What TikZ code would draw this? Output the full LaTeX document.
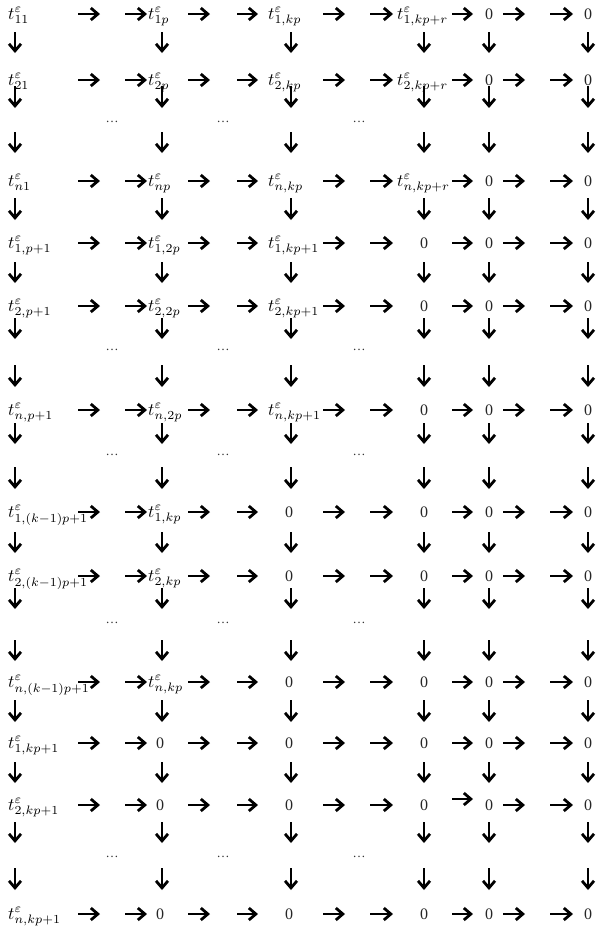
\documentclass[tikz,border=0pt]{standalone}
\usepackage{graphicx}
\usepackage{fontspec}
\setmainfont{Liberation Serif}
\usetikzlibrary{arrows.meta}
\newcommand{\tl}[1]{\scalebox{1.75}{$#1$}}
\begin{document}
\begin{tikzpicture}[x=1pt,y=-1pt,
  arr/.style={line width=2.8pt,-{Straight Barb[length=7pt,width=12pt]}},
  lab/.style={anchor=base west,inner sep=0pt},
  zero/.style={anchor=base,inner sep=0pt,font=\fontsize{16}{19}\selectfont,text=black!85},
  dotsn/.style={inner sep=0pt,font=\fontsize{13}{15}\selectfont,text=black!80}]
\useasboundingbox (0,0) rectangle (596,927);
% horizontal arrows
\foreach \y [count=\r] in {14,80,181,243,306,410,512,576,682,743,805,914} {
  \foreach \a/\b [count=\i] in {78/100,125/147,188/210,237/258,323/345,370/393,452/473,503/525,550/573} {
    \pgfmathtruncatemacro\dy{(\r==11)*(\i==7)*6}
    \coordinate (h\r-\i-s) at (\a,{\y-\dy});
    \coordinate (h\r-\i-e) at (\b,{\y-\dy});
    \draw[arr] (h\r-\i-s) -- (h\r-\i-e);
  }
}
% vertical arrows
\foreach \s/\e [count=\j] in {32/53,86/108,132/153,198/220,262/283,318/339,365/387,423/444,467/489,532/553,588/609,640/661,700/722,762/783,822/843,868/890} {
  \foreach \x [count=\c] in {15,162,291,424,489,588} {
    \coordinate (v\j-\c-s) at (\x,\s);
    \coordinate (v\j-\c-e) at (\x,\e);
    \draw[arr] (v\j-\c-s) -- (v\j-\c-e);
  }
}
% dots
\foreach \y [count=\k] in {122,350,455,623,857} {
  \foreach \x [count=\m] in {112,223,359} {
    \node[dotsn] (dots\k-\m) at (\x,\y) {\ldots};
  }
}
% column A labels
\node[lab] (a1) at (8,19) {\tl{t^{\varepsilon}_{11}}};
\node[lab] (a2) at (8,85) {\tl{t^{\varepsilon}_{21}}};
\node[lab] (a3) at (8,186) {\tl{t^{\varepsilon}_{n1}}};
\node[lab] (a4) at (8,248) {\tl{t^{\varepsilon}_{1,p+1}}};
\node[lab] (a5) at (8,311) {\tl{t^{\varepsilon}_{2,p+1}}};
\node[lab] (a6) at (8,415) {\tl{t^{\varepsilon}_{n,p+1}}};
\node[lab] (a7) at (8,517) {\tl{t^{\varepsilon}_{1,(k-1)p+1}}};
\node[lab] (a8) at (8,581) {\tl{t^{\varepsilon}_{2,(k-1)p+1}}};
\node[lab] (a9) at (8,687) {\tl{t^{\varepsilon}_{n,(k-1)p+1}}};
\node[lab] (a10) at (8,748) {\tl{t^{\varepsilon}_{1,kp+1}}};
\node[lab] (a11) at (8,810) {\tl{t^{\varepsilon}_{2,kp+1}}};
\node[lab] (a12) at (8,919) {\tl{t^{\varepsilon}_{n,kp+1}}};
% column B
\node[lab] (b1) at (148,19) {\tl{t^{\varepsilon}_{1p}}};
\node[lab] (b2) at (148,85) {\tl{t^{\varepsilon}_{2p}}};
\node[lab] (b3) at (148,186) {\tl{t^{\varepsilon}_{np}}};
\node[lab] (b4) at (148,248) {\tl{t^{\varepsilon}_{1,2p}}};
\node[lab] (b5) at (148,311) {\tl{t^{\varepsilon}_{2,2p}}};
\node[lab] (b6) at (148,415) {\tl{t^{\varepsilon}_{n,2p}}};
\node[lab] (b7) at (148,517) {\tl{t^{\varepsilon}_{1,kp}}};
\node[lab] (b8) at (148,581) {\tl{t^{\varepsilon}_{2,kp}}};
\node[lab] (b9) at (148,687) {\tl{t^{\varepsilon}_{n,kp}}};
\node[zero] (b10) at (160,748) {0};
\node[zero] (b11) at (160,810) {0};
\node[zero] (b12) at (160,919) {0};
% column C
\node[lab] (c1) at (268,19) {\tl{t^{\varepsilon}_{1,kp}}};
\node[lab] (c2) at (268,85) {\tl{t^{\varepsilon}_{2,kp}}};
\node[lab] (c3) at (268,186) {\tl{t^{\varepsilon}_{n,kp}}};
\node[lab] (c4) at (268,248) {\tl{t^{\varepsilon}_{1,kp+1}}};
\node[lab] (c5) at (268,311) {\tl{t^{\varepsilon}_{2,kp+1}}};
\node[lab] (c6) at (268,415) {\tl{t^{\varepsilon}_{n,kp+1}}};
\foreach \y [count=\q from 7] in {512,576,682,743,805,914} {
  \node[zero] (c\q) at (289,\y+5) {0};
}
% column D
\node[lab] (d1) at (397,19) {\tl{t^{\varepsilon}_{1,kp+r}}};
\node[lab] (d2) at (397,85) {\tl{t^{\varepsilon}_{2,kp+r}}};
\node[lab] (d3) at (397,186) {\tl{t^{\varepsilon}_{n,kp+r}}};
\foreach \y [count=\q from 4] in {243,306,410,512,576,682,743,805,914} {
  \node[zero] (d\q) at (424,\y+5) {0};
}
% columns E and F
\foreach \y [count=\q] in {14,80,181,243,306,410,512,576,682,743,805,914} {
  \node[zero] (e\q) at (489,\y+5) {0};
  \node[zero] (f\q) at (588,\y+5) {0};
}
\end{tikzpicture}
\end{document}
